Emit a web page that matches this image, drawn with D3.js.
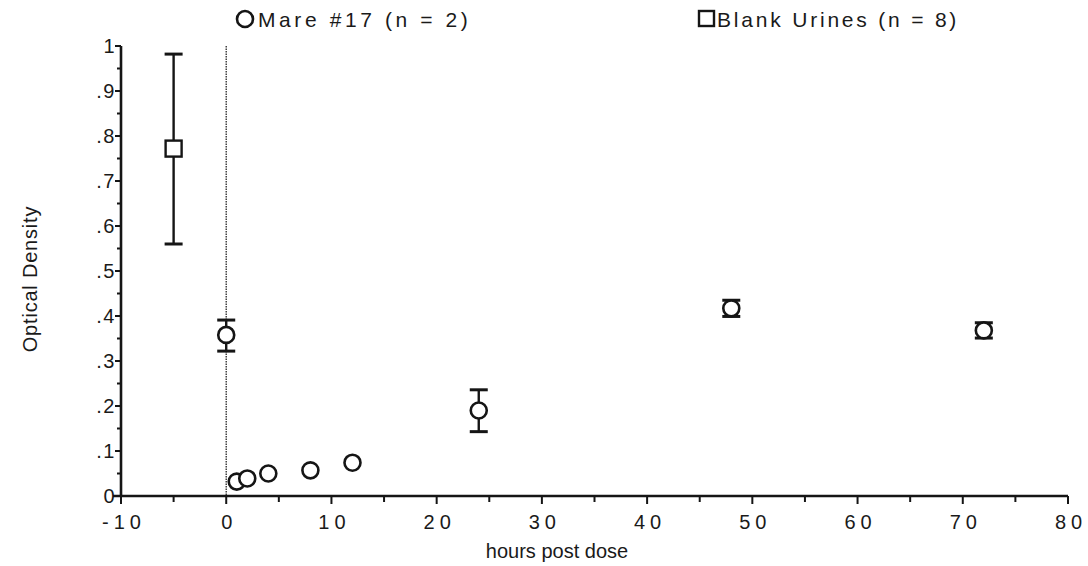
<!DOCTYPE html>
<html>
<head>
<meta charset="utf-8">
<script src="https://cdn.jsdelivr.net/npm/d3@7"></script>
<style>
  html, body { margin: 0; padding: 0; background: #fff; }
  svg text { font-family: "Liberation Sans", Arial, Helvetica, sans-serif; fill: #1a1a1a; }
</style>
</head>
<body>
<svg id="chart" width="1088" height="566"></svg>
<script>
// Mare #17 urine samples (hours post dose, optical density, error range)
const mareHours = [0, 1, 2, 4, 8, 12, 24, 48, 72];
const mareOD    = [0.358, 0.032, 0.039, 0.050, 0.057, 0.074, 0.190, 0.417, 0.368];
const mareLow   = [0.322, null, null, null, null, null, 0.143, 0.399, 0.351];
const mareHigh  = [0.391, null, null, null, null, null, 0.236, 0.435, 0.385];

// Blank urines, plotted before dosing
const blankHours = [-5];
const blankOD    = [0.772];
const blankLow   = [0.560];
const blankHigh  = [0.982];

const xTicks = [-10, 0, 10, 20, 30, 40, 50, 60, 70, 80];
const yTicks = [0, 0.1, 0.2, 0.3, 0.4, 0.5, 0.6, 0.7, 0.8, 0.9, 1];
const yTickLabels = ["0", ".1", ".2", ".3", ".4", ".5", ".6", ".7", ".8", ".9", "1"];

const svg = d3.select("#chart");
const x = d3.scaleLinear().domain([-10, 80]).range([121, 1068]);
const y = d3.scaleLinear().domain([0, 1]).range([496, 46]);
const ink = "#151515";

// dose marker at t = 0
svg.append("line")
  .attr("x1", x(0)).attr("x2", x(0))
  .attr("y1", y(1)).attr("y2", y(0))
  .attr("stroke", "#333").attr("stroke-width", 1.4)
  .attr("stroke-dasharray", "1.5,1");

// y axis
const yAxis = svg.append("g").attr("transform", `translate(${x(-10)},0)`);
yAxis.append("line").attr("y1", y(1)).attr("y2", y(0)).attr("stroke", ink).attr("stroke-width", 2.6);
yAxis.selectAll("line.minor").data(d3.range(0.05, 1, 0.1)).join("line")
  .attr("class", "minor")
  .attr("x1", -4).attr("x2", 0).attr("y1", d => y(d)).attr("y2", d => y(d))
  .attr("stroke", ink).attr("stroke-width", 2);
yAxis.selectAll("line.major").data(yTicks).join("line")
  .attr("class", "major")
  .attr("x1", -6).attr("x2", 0).attr("y1", d => y(d)).attr("y2", d => y(d))
  .attr("stroke", ink).attr("stroke-width", 2);
yAxis.selectAll("text").data(yTicks).join("text")
  .attr("x", -5).attr("y", d => y(d) + 7)
  .attr("text-anchor", "end")
  .attr("font-size", 20)
  .attr("letter-spacing", 1.5)
  .text((d, i) => yTickLabels[i]);

// x axis
const xAxis = svg.append("g").attr("transform", `translate(0,${y(0)})`);
xAxis.append("line").attr("x1", x(-10) - 8).attr("x2", x(80)).attr("stroke", ink).attr("stroke-width", 2.6);
xAxis.selectAll("line.minor").data(d3.range(-5, 80, 10)).join("line")
  .attr("class", "minor")
  .attr("x1", d => x(d)).attr("x2", d => x(d)).attr("y1", 0).attr("y2", 6)
  .attr("stroke", ink).attr("stroke-width", 2);
xAxis.selectAll("line.major").data(xTicks).join("line")
  .attr("class", "major")
  .attr("x1", d => x(d)).attr("x2", d => x(d)).attr("y1", 0).attr("y2", 8)
  .attr("stroke", ink).attr("stroke-width", 2);
xAxis.selectAll("text").data(xTicks).join("text")
  .attr("x", d => x(d) + 3).attr("y", 33)
  .attr("text-anchor", "middle")
  .attr("font-size", 20)
  .attr("letter-spacing", 5)
  .text(d => d < 0 ? "-" + Math.abs(d) : String(d));

// axis titles
svg.append("text")
  .attr("x", 557).attr("y", 558)
  .attr("text-anchor", "middle").attr("font-size", 20)
  .text("hours post dose");
svg.append("text")
  .attr("transform", `translate(37,279) rotate(-90)`)
  .attr("text-anchor", "middle").attr("font-size", 20).attr("letter-spacing", 0.8)
  .text("Optical Density");

// error bars
function errorBars(g, xs, lows, highs) {
  const rows = xs.map((h, i) => ({ h, lo: lows[i], hi: highs[i] })).filter(d => d.lo != null);
  g.selectAll("line.stem").data(rows).join("line").attr("class", "stem")
    .attr("x1", d => x(d.h)).attr("x2", d => x(d.h))
    .attr("y1", d => y(d.lo)).attr("y2", d => y(d.hi))
    .attr("stroke", ink).attr("stroke-width", 2.4);
  ["lo", "hi"].forEach(k => {
    g.selectAll("line.cap-" + k).data(rows).join("line").attr("class", "cap-" + k)
      .attr("x1", d => x(d.h) - 9).attr("x2", d => x(d.h) + 9)
      .attr("y1", d => y(d[k])).attr("y2", d => y(d[k]))
      .attr("stroke", ink).attr("stroke-width", 3);
  });
}

const blankG = svg.append("g");
errorBars(blankG, blankHours, blankLow, blankHigh);
blankG.selectAll("rect").data(blankHours).join("rect")
  .attr("x", (d) => x(d) - 8).attr("y", (d, i) => y(blankOD[i]) - 8)
  .attr("width", 16).attr("height", 16)
  .attr("fill", "#fff").attr("stroke", ink).attr("stroke-width", 2.4);

const mareG = svg.append("g");
errorBars(mareG, mareHours, mareLow, mareHigh);
mareG.selectAll("circle").data(mareHours).join("circle")
  .attr("cx", d => x(d)).attr("cy", (d, i) => y(mareOD[i]))
  .attr("r", 8)
  .attr("fill", "#fff").attr("stroke", ink).attr("stroke-width", 2.6);

// legend
const leg = svg.append("g");
leg.append("circle").attr("cx", 245).attr("cy", 19).attr("r", 8)
  .attr("fill", "none").attr("stroke", ink).attr("stroke-width", 2.6);
leg.append("text").attr("x", 258).attr("y", 27).attr("font-size", 21).attr("letter-spacing", 3.6)
  .text("Mare #17 (n = 2)");
leg.append("rect").attr("x", 699).attr("y", 11).attr("width", 15).attr("height", 15)
  .attr("fill", "none").attr("stroke", ink).attr("stroke-width", 2.4);
leg.append("text").attr("x", 717).attr("y", 27).attr("font-size", 21).attr("letter-spacing", 2.8)
  .text("Blank Urines (n = 8)");
</script>
</body>
</html>
